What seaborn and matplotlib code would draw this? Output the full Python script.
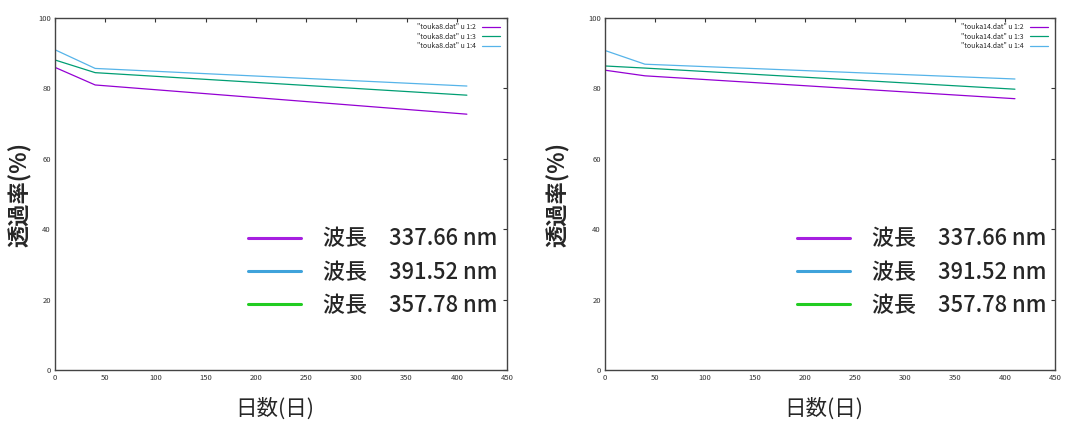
import pandas as pd
import seaborn as sns
import matplotlib.pyplot as plt
from matplotlib.lines import Line2D

# days (x) and transmittance (%)
days = [0, 40, 410]

touka8_col2 = [86.0, 81.0, 72.7]
touka8_col3 = [88.1, 84.5, 78.1]
touka8_col4 = [91.0, 85.7, 80.7]

touka14_col2 = [85.2, 83.6, 77.1]
touka14_col3 = [86.4, 85.8, 79.8]
touka14_col4 = [90.8, 86.9, 82.7]

small_labels = ["u 1:2", "u 1:3", "u 1:4"]
big_labels = ["波長　337.66 nm", "波長　391.52 nm", "波長　357.78 nm"]

gp_colors = ["#9400d3", "#009e73", "#56b4e9"]
big_colors = ["#a61fe0", "#3fa3db", "#22cc22"]


def make_df(name, cols):
    rows = []
    for lab, vals in zip(small_labels, cols):
        for d, v in zip(days, vals):
            rows.append({"day": d, "value": v, "series": f'"{name}" {lab}'})
    return pd.DataFrame(rows)


def draw_panel(ax, df, ylabel_x):
    names = list(df["series"].unique())
    sns.lineplot(data=df, x="day", y="value", hue="series", palette=dict(zip(names, gp_colors)),
                 linewidth=0.9, ax=ax, legend=False)
    ax.set_xlim(0, 450)
    ax.set_ylim(0, 100)
    ax.set_xticks(range(0, 451, 50))
    ax.set_yticks(range(0, 101, 20))
    ax.tick_params(direction="in", length=3, width=0.8, labelsize=5.5, colors="#333333",
                   top=True, right=True, pad=3)
    for s in ax.spines.values():
        s.set_color("#444444")
        s.set_linewidth(1.0)
    ax.grid(False)

    # small gnuplot key
    small = [Line2D([0], [0], color=c, lw=0.9) for c in gp_colors]
    leg1 = ax.legend(small, names, loc="upper right", fontsize=5, frameon=False,
                     markerfirst=False, handlelength=2.6, handletextpad=0.9,
                     labelspacing=0.2, borderpad=0, borderaxespad=0,
                     bbox_to_anchor=(0.985, 0.985))
    ax.add_artist(leg1)

    # big overlaid key
    big = [Line2D([0], [0], color=c, lw=2.2) for c in big_colors]
    leg2 = ax.legend(big, big_labels, loc="upper left", bbox_to_anchor=(0.427, 0.405),
                     fontsize=15.8, frameon=False, handlelength=2.4, handletextpad=1.0,
                     labelspacing=0.46, borderpad=0, borderaxespad=0)
    for t in leg2.get_texts():
        t.set_fontweight("medium")

    ax.set_xlabel("日数(日)", fontsize=15.5)
    ax.set_ylabel("透過率(%)", fontsize=16, fontweight="bold")
    ax.xaxis.set_label_coords(0.487, -0.078)
    ax.yaxis.set_label_coords(ylabel_x, 0.5)


sns.set_theme(style="white")
plt.rcParams["font.family"] = ["Noto Sans CJK JP", "DejaVu Sans"]

fig = plt.figure(figsize=(10.83, 4.21), dpi=100)
ax1 = fig.add_axes([0.0508, 0.121, 0.4174, 0.836])
ax2 = fig.add_axes([0.5586, 0.121, 0.4155, 0.836])

draw_panel(ax1, make_df("touka8.dat", [touka8_col2, touka8_col3, touka8_col4]), -0.051)
draw_panel(ax2, make_df("touka14.dat", [touka14_col2, touka14_col3, touka14_col4]), -0.078)

fig.savefig("out.png", dpi=100)
